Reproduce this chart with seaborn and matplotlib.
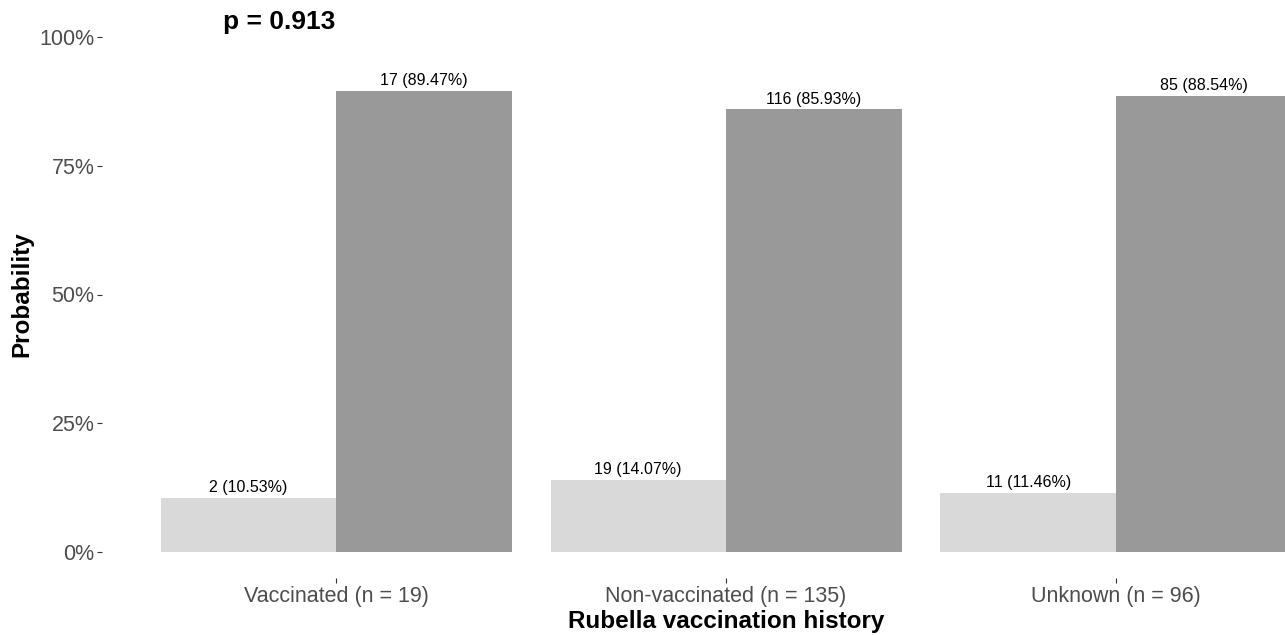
import pandas as pd
import matplotlib
matplotlib.use("Agg")
import matplotlib.pyplot as plt
import seaborn as sns

groups = ["Vaccinated (n = 19)", "Non-vaccinated (n = 135)", "Unknown (n = 96)"]
outcomes = ["Event", "No event"]
event_counts = [2, 19, 11]
no_event_counts = [17, 116, 85]
colors = ["#D9D9D9", "#999999"]
y_ticks = [0, 0.25, 0.5, 0.75, 1.0]
y_tick_labels = ["0%", "25%", "50%", "75%", "100%"]

rows = []
for g, a, b in zip(groups, event_counts, no_event_counts):
    n = a + b
    rows.append({"group": g, "outcome": outcomes[0], "count": a, "prop": a / n})
    rows.append({"group": g, "outcome": outcomes[1], "count": b, "prop": b / n})
df = pd.DataFrame(rows)

sns.set_style("white")
plt.rcParams["font.family"] = ["Liberation Sans", "DejaVu Sans"]

fig = plt.figure(figsize=(12.85, 6.35), dpi=100)
ax = fig.add_axes([102 / 1285, 1 - 578 / 635, 1 - 102 / 1285, 567 / 635])

sns.barplot(data=df, x="group", y="prop", hue="outcome", hue_order=outcomes,
            order=groups, palette=colors, width=0.9, saturation=1,
            legend=False, ax=ax, errorbar=None)

for cont, outcome in zip(ax.containers, outcomes):
    sub = df[df["outcome"] == outcome].set_index("group").loc[groups]
    labels = [f"{c} ({p * 100:.2f}%)" for c, p in zip(sub["count"], sub["prop"])]
    ax.bar_label(cont, labels=labels, fontsize=11.5, padding=2, color="black")

for bar in ax.patches:
    bar.set_edgecolor("none")

ax.set_xlim(-0.6, (1285 - 336) / 390)
ax.set_ylim(-0.05, 1.05)
ax.set_yticks(y_ticks)
ax.set_yticklabels(y_tick_labels)
for s in ax.spines.values():
    s.set_visible(False)
ax.tick_params(axis="both", length=3.5, width=0.8, color="#333333",
               labelsize=15.5, labelcolor="#4D4D4D", pad=2, left=True, bottom=True)

ax.set_xlabel("Rubella vaccination history", fontsize=17.5, fontweight="bold", color="black")
ax.xaxis.set_label_coords((726 - 102) / 1183, -0.057)
ax.set_ylabel("Probability", fontsize=17.5, fontweight="bold", color="black")
ax.yaxis.set_label_coords(-0.058, 0.5)

ax.text(-0.145, 1.028, "p = 0.913", fontsize=19, fontweight="bold",
        ha="center", va="center", color="black")

fig.savefig("out.png", dpi=100)
